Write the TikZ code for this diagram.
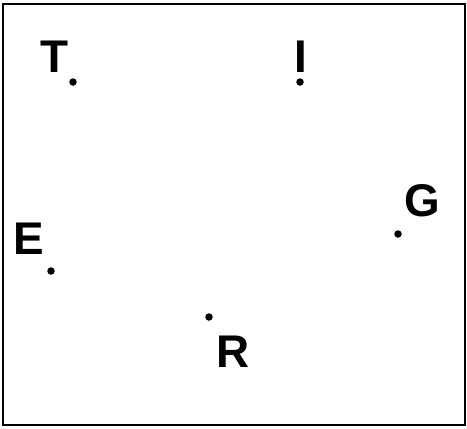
\documentclass[tikz,border=0pt]{standalone}
\usepackage{fontspec}
\setmainfont{Liberation Sans}
\begin{document}
\begin{tikzpicture}[x=1bp, y=-1bp,
      pt/.style={circle, fill=black, inner sep=0pt, minimum size=7.5bp},
      lbl/.style={inner sep=0pt, font=\fontsize{46}{54}\selectfont\bfseries}]
    \useasboundingbox (0,0) rectangle (467,428);
    \draw[line width=2.2bp] (3,4) rectangle (465,425);

    \node[pt] (t) at (73,82) {};
    \node[pt] (i) at (300,82) {};
    \node[pt] (g) at (398,234) {};
    \node[pt] (e) at (51,271) {};
    \node[pt] (r) at (209,317) {};

    \node[lbl] (tl) at (54.5,56.5) {T};
    \node[lbl] (il) at (300.5,57) {I};
    \node[lbl] (gl) at (422.5,200.5) {G};
    \node[lbl] (el) at (29,238.5) {E};
    \node[lbl] (rl) at (233,352) {R};
  \end{tikzpicture}
\end{document}
